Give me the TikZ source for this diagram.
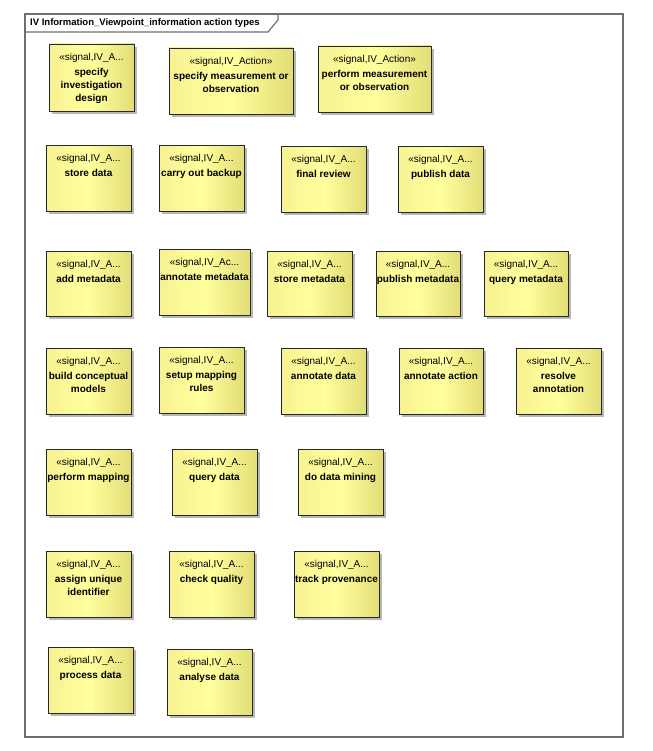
\documentclass[tikz,border=0pt]{standalone}
\usepackage{fontspec}
\setmainfont{Liberation Sans}
\usetikzlibrary{shadows}
\definecolor{boxL}{RGB}{247,242,145}
\definecolor{boxM}{RGB}{255,255,158}
\definecolor{boxR}{RGB}{226,221,118}
\definecolor{boxLine}{RGB}{40,40,40}
\definecolor{frameLine}{RGB}{110,110,110}
\tikzset{
  actbox/.style={draw=boxLine, line width=0.9bp, inner sep=0pt,
    left color=boxL, right color=boxR, middle color=boxM,
    drop shadow={shadow xshift=3bp, shadow yshift=-3bp, fill=black!40, opacity=0.7}},
  sterlabel/.style={anchor=base, inner sep=0pt, font=\fontsize{10bp}{12.5bp}\selectfont},
  namelabel/.style={anchor=north, inner sep=0pt, align=center, font=\fontsize{10bp}{12.8bp}\selectfont\bfseries},
  frameline/.style={draw=frameLine, line width=1.2bp},
}
\newcommand\actbox[7]{%
  \node[actbox, minimum width={(#4-#2)*1bp}, minimum height={(#5-#3)*1bp}] (#1) at ({(#2+#4)/2},{(#3+#5)/2}) {};
  \node[sterlabel] (#1-st) at ({(#2+#4)/2},{#3+16.5}) {#6};
  \node[namelabel] (#1-nm) at ({(#2+#4)/2},{#3+23.5}) {\rule{0pt}{8bp}#7};
}
\begin{document}
\begin{tikzpicture}[x=1bp,y=-1bp]
\useasboundingbox (0,0) rectangle (653,751);
% frame
\draw[frameline] (25,14) rectangle (623,737);
\draw[frameline] (25,32) -- (268,32) -- (278,20) -- (278,14);
\node[anchor=west, inner sep=0pt, font=\fontsize{9.5bp}{11bp}\selectfont\bfseries] (title) at (30,23.5) {IV Information\_Viewpoint\_information action types};
% row 1
\actbox{sid}{49}{44}{134}{111}{«signal,IV\_A...}{specify\\investigation\\design}
\actbox{smo}{169}{48}{293}{114}{«signal,IV\_Action»}{specify measurement or\\observation}
\actbox{pmo}{318}{46}{431}{112}{«signal,IV\_Action»}{perform measurement\\or observation}
% row 2
\actbox{sd}{46}{145}{131}{211}{«signal,IV\_A...}{store data}
\actbox{cob}{159}{145}{244}{211}{«signal,IV\_A...}{carry out backup}
\actbox{fr}{281}{146}{366}{212}{«signal,IV\_A...}{final review}
\actbox{pd}{398}{146}{483}{212}{«signal,IV\_A...}{publish data}
% row 3
\actbox{am}{46}{251}{131}{316}{«signal,IV\_A...}{add metadata}
\actbox{anm}{159}{249}{250}{315}{«signal,IV\_Ac...}{annotate metadata}
\actbox{stm}{267}{251}{352}{316}{«signal,IV\_A...}{store metadata}
\actbox{pm}{376}{251}{460}{316}{«signal,IV\_A...}{publish metadata}
\actbox{qm}{484}{251}{568}{316}{«signal,IV\_A...}{query metadata}
% row 4
\actbox{bcm}{46}{348}{131}{414}{«signal,IV\_A...}{build conceptual\\models}
\actbox{smr}{159}{347}{244}{413}{«signal,IV\_A...}{setup mapping\\rules}
\actbox{ad}{281}{348}{366}{414}{«signal,IV\_A...}{annotate data}
\actbox{aa}{399}{348}{483}{414}{«signal,IV\_A...}{annotate action}
\actbox{ra}{516}{348}{601}{414}{«signal,IV\_A...}{resolve\\annotation}
% row 5
\actbox{pmap}{46}{449}{131}{515}{«signal,IV\_A...}{perform mapping}
\actbox{qd}{172}{449}{257}{515}{«signal,IV\_A...}{query data}
\actbox{ddm}{298}{449}{383}{515}{«signal,IV\_A...}{do data mining}
% row 6
\actbox{aui}{46}{551}{131}{617}{«signal,IV\_A...}{assign unique\\identifier}
\actbox{cq}{169}{551}{254}{617}{«signal,IV\_A...}{check quality}
\actbox{tp}{294}{551}{379}{617}{«signal,IV\_A...}{track provenance}
% row 7
\actbox{prd}{48}{647}{133}{713}{«signal,IV\_A...}{process data}
\actbox{and}{167}{649}{252}{715}{«signal,IV\_A...}{analyse data}
\end{tikzpicture}
\end{document}
